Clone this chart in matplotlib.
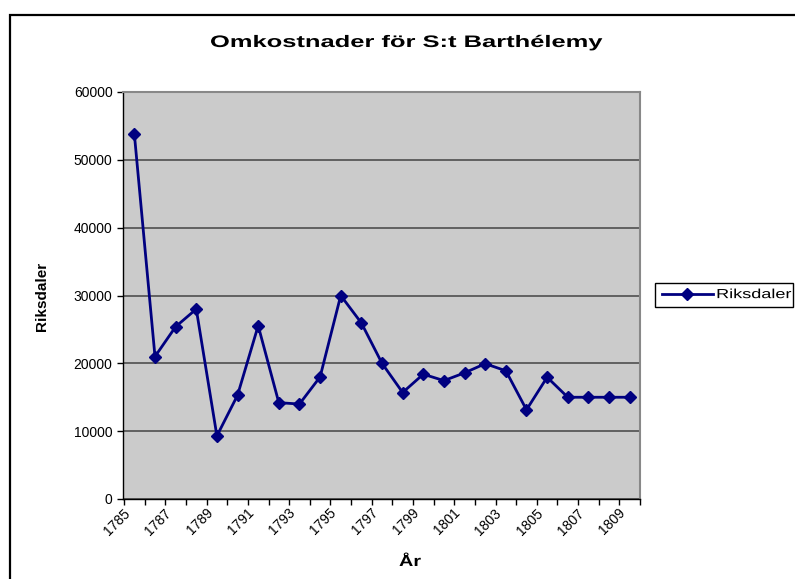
import matplotlib
matplotlib.use("Agg")
import matplotlib.pyplot as plt
from matplotlib.patches import Rectangle
from matplotlib.patheffects import AbstractPathEffect
from matplotlib.transforms import Affine2D

plt.rcParams['font.family'] = ['Liberation Sans', 'DejaVu Sans']

years = list(range(1785, 1810))
riksdaler = [53800, 21000, 25400, 28000, 9300, 15300, 25550, 14200, 14000, 18000,
             30000, 25950, 20000, 15700, 18400, 17450, 18600, 19950, 18900, 13150,
             17950, 15000, 15000, 15000, 15000]
yticks = [0, 10000, 20000, 30000, 40000, 50000, 60000]
title = "Omkostnader för S:t Barthélemy"
xlabel = "År"
ylabel = "Riksdaler"
series_name = "Riksdaler"


class HStretch(AbstractPathEffect):
    """Draw text glyphs stretched horizontally (as in the reference)."""
    def __init__(self, sx, anchor='center'):
        super().__init__()
        self.sx = sx
        self.anchor = anchor

    def draw_path(self, renderer, gc, tpath, affine, rgbFace=None):
        ext = tpath.get_extents()
        cx = (ext.x0 + ext.x1) / 2 if self.anchor == 'center' else 0.0
        t = Affine2D().translate(-cx, 0).scale(self.sx, 1).translate(cx, 0)
        renderer.draw_path(gc, tpath, t + affine, rgbFace)


W, H = 795, 579
fig = plt.figure(figsize=(W / 100, H / 100), dpi=100)
fig.patch.set_facecolor('white')

# outer chart border
fig.patches.append(Rectangle((10 / W, -0.1), 1.2, (H - 15) / H + 0.1,
                             transform=fig.transFigure, fill=False,
                             edgecolor='black', linewidth=1.6))

ax = fig.add_axes([123 / W, (H - 499) / H, 517 / W, 407 / H])
ax.set_facecolor('#cbcbcb')

x = list(range(len(years)))
line, = ax.plot(x, riksdaler, color='#000080', linewidth=2, marker='D',
                markersize=6.5, markerfacecolor='#000080',
                markeredgecolor='#000080', label=series_name, zorder=3)

ax.set_xlim(-0.5, len(years) - 0.5)
ax.set_ylim(0, 60000)
ax.set_yticks(yticks)
ax.set_yticklabels([str(v) for v in yticks], fontsize=10)
ax.yaxis.grid(True, color='#444444', linewidth=1.1)
ax.set_axisbelow(True)

# category boundaries carry the tick marks; labels sit under every 2nd year
ax.set_xticks([i - 0.5 for i in range(len(years) + 1)])
ax.set_xticklabels([])
label_shift = 0.55  # rotated labels end a little left of the category centre
ax.set_xticks([i - label_shift for i in x[::2]], minor=True)
ax.set_xticklabels([str(y) for y in years[::2]], minor=True,
                   rotation=45, ha='right', va='top',
                   rotation_mode='anchor', fontsize=10)
ax.tick_params(axis='x', which='minor', length=0, pad=5)
ax.tick_params(axis='both', which='major', direction='out', length=4,
               width=1, color='black')

for s in ['left', 'bottom']:
    ax.spines[s].set_color('black')
    ax.spines[s].set_linewidth(1)
for s in ['top', 'right']:
    ax.spines[s].set_color('#888888')
    ax.spines[s].set_linewidth(1.5)

t = fig.text(406 / W, 1 - 42.5 / H, title, ha='center', va='center',
             fontsize=12, fontweight='bold')
t.set_path_effects([HStretch(1.53)])
xl = fig.text(410 / W, 1 - 562 / H, xlabel, ha='center', va='center',
              fontsize=11, fontweight='bold')
xl.set_path_effects([HStretch(1.3)])
fig.text(42 / W, 1 - 296 / H, ylabel, ha='center', va='center',
         rotation=90, fontsize=11, fontweight='bold')

# legend
fig.patches.append(Rectangle((655 / W, 1 - 307 / H), 138 / W, 24 / H,
                             transform=fig.transFigure, fill=False,
                             edgecolor='black', linewidth=1))
leg = fig.legend(handles=[line], labels=[series_name], loc='center left',
                 bbox_to_anchor=(662 / W, 1 - 295 / H), fontsize=9.5,
                 frameon=False, handlelength=3.85, handletextpad=0.25,
                 borderpad=0, borderaxespad=0)
for lt in leg.get_texts():
    lt.set_path_effects([HStretch(1.37, anchor='left')])

fig.savefig('out.png', dpi=100)
